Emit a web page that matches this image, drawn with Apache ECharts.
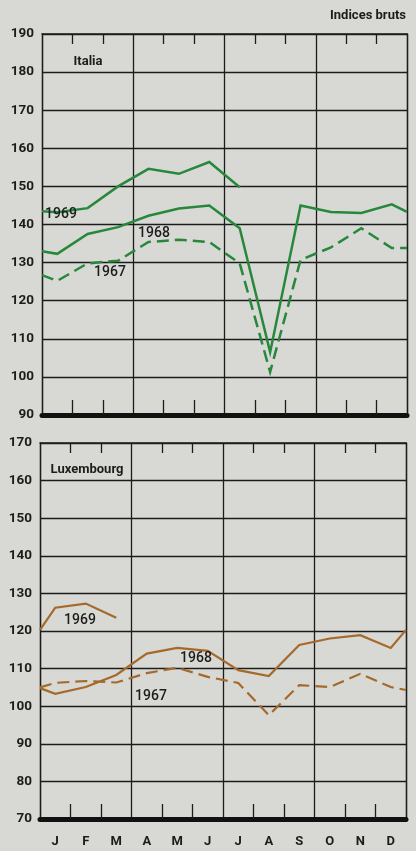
<!DOCTYPE html>
<html><head><meta charset="utf-8">
<script src="https://cdn.jsdelivr.net/npm/echarts@6/dist/echarts.min.js"></script>
<style>html,body{margin:0;padding:0;background:#d8d9d4}#c{width:416px;height:851px}</style>
</head><body><div id="c"></div>
<script>
// Month labels
const months = ['J','F','M','A','M','J','J','A','S','O','N','D'];
// Values: [left-edge, Jan..Dec, right-edge]
const italia1967 = [126.7, 125.2, 129.8, 130.5, 135.4, 136.0, 135.4, 129.8, 101.3, 130.7, 134.0, 139.0, 133.8, 133.8];
const italia1968 = [133.0, 132.3, 137.5, 139.3, 142.3, 144.2, 145.0, 139.0, 106.5, 145.0, 143.3, 143.0, 145.3, 143.3];
const italia1969 = [143.5, 143.2, 144.3, 150.0, 154.6, 153.3, 156.4, 149.8];
const lux1967 = [105.0, 106.2, 106.7, 106.3, 108.8, 110.2, 107.8, 106.2, 97.6, 105.6, 105.1, 108.6, 105.1, 104.3];
const lux1968 = [104.8, 103.3, 105.1, 108.3, 114.0, 115.5, 114.7, 109.6, 108.0, 116.3, 118.0, 118.9, 115.5, 120.3];
const lux1969 = [120.3, 126.2, 127.3, 123.5];
// Axis ranges / ticks
const italiaTicks = [90, 190, 10];
const luxTicks = [70, 170, 10];

const FONT = "Roboto,'DejaVu Sans Condensed',sans-serif";
const INK = '#1c1c1c';
const GREEN = '#27883b';
const BROWN = '#a5692c';

// 25 slots: even = month boundaries, odd = month centres
const slots = Array.from({length: 25}, (_, i) => String(i));
function toSlots(arr) {
  const out = new Array(25).fill(null);
  arr.forEach((v, k) => {
    if (k === 0) out[0] = v;
    else if (k <= 12) out[2 * (k - 1) + 1] = v;
    else out[24] = v;
  });
  return out;
}

function xAxes(g, showLabels) {
  return [
    {
      type: 'category', gridIndex: g, data: slots, boundaryGap: false, position: 'bottom',
      axisLine: {show: true, onZero: false, lineStyle: {color: '#111', width: 5}},
      axisTick: {show: true, inside: true, length: 15, lineStyle: {color: INK, width: 1.3},
                 interval: (i) => i % 2 === 0 && i % 6 !== 0},
      axisLabel: {show: showLabels, interval: (i) => i % 2 === 1, margin: 16,
                  formatter: (v, i) => months[(Number(v) - 1) / 2] || '',
                  fontFamily: FONT, fontWeight: 'bold', fontSize: 13, color: INK},
      splitLine: {show: true, interval: (i) => i % 6 === 0, lineStyle: {color: INK, width: 1.3}}
    },
    {
      type: 'category', gridIndex: g, data: slots, boundaryGap: false, position: 'top',
      axisLine: {show: true, onZero: false, lineStyle: {color: INK, width: 1.5}},
      axisTick: {show: true, inside: true, length: 10, lineStyle: {color: INK, width: 1.3},
                 interval: (i) => i % 2 === 0 && i % 6 !== 0},
      axisLabel: {show: false}, splitLine: {show: false}
    }
  ];
}
function yAxes(g, t) {
  return [
    {
      type: 'value', gridIndex: g, min: t[0], max: t[1], interval: t[2], position: 'left',
      axisLine: {show: true, lineStyle: {color: INK, width: 1.3}}, axisTick: {show: false},
      axisLabel: {margin: 8, fontFamily: FONT, fontWeight: 'bold', fontSize: 13.5, color: INK},
      splitLine: {show: true, lineStyle: {color: INK, width: 1.3}}
    },
    {
      type: 'value', gridIndex: g, min: t[0], max: t[1], interval: t[2], position: 'right',
      axisLine: {show: true, lineStyle: {color: INK, width: 1.3}}, axisTick: {show: false},
      axisLabel: {show: false}, splitLine: {show: false}
    }
  ];
}
function line(data, g, color, dashed, w) {
  return {
    type: 'line', xAxisIndex: g * 2, yAxisIndex: g * 2, data: toSlots(data),
    connectNulls: true, symbol: 'none', silent: true, z: 5,
    lineStyle: {color, width: w, type: dashed ? [12, 6] : 'solid', cap: 'butt', join: 'miter'}
  };
}
function txt(s, x, y, size, weight) {
  return {type: 'text', x, y, z: 10,
    style: {text: s, font: (weight || 'bold') + ' ' + size + 'px ' + FONT, fill: INK, align: 'center', verticalAlign: 'middle'}};
}

const chart = echarts.init(document.getElementById('c'), null, {renderer: 'canvas'});
chart.setOption({
  backgroundColor: '#d8d9d4',
  animation: false,
  grid: [
    {left: 42, right: 9, top: 34, bottom: 436},
    {left: 40, right: 10, top: 443, bottom: 32}
  ],
  xAxis: [...xAxes(0, false), ...xAxes(1, true)],
  yAxis: [...yAxes(0, italiaTicks), ...yAxes(1, luxTicks)],
  series: [
    line(italia1967, 0, GREEN, true, 2.5),
    line(italia1968, 0, GREEN, false, 2.5),
    line(italia1969, 0, GREEN, false, 2.5),
    line(lux1967, 1, BROWN, true, 2.2),
    line(lux1968, 1, BROWN, false, 2.2),
    line(lux1969, 1, BROWN, false, 2.2)
  ],
  graphic: [
    txt('Indices bruts', 368, 16, 13),
    txt('Italia', 88, 62, 13),
    txt('Luxembourg', 87, 470, 13),
    txt('1969', 61, 214, 14, '500'),
    txt('1968', 154, 233, 14, '500'),
    txt('1967', 110, 272, 14, '500'),
    txt('1969', 80, 620, 14, '500'),
    txt('1968', 196, 658, 14, '500'),
    txt('1967', 151, 696, 14, '500')
  ]
});
</script></body></html>
